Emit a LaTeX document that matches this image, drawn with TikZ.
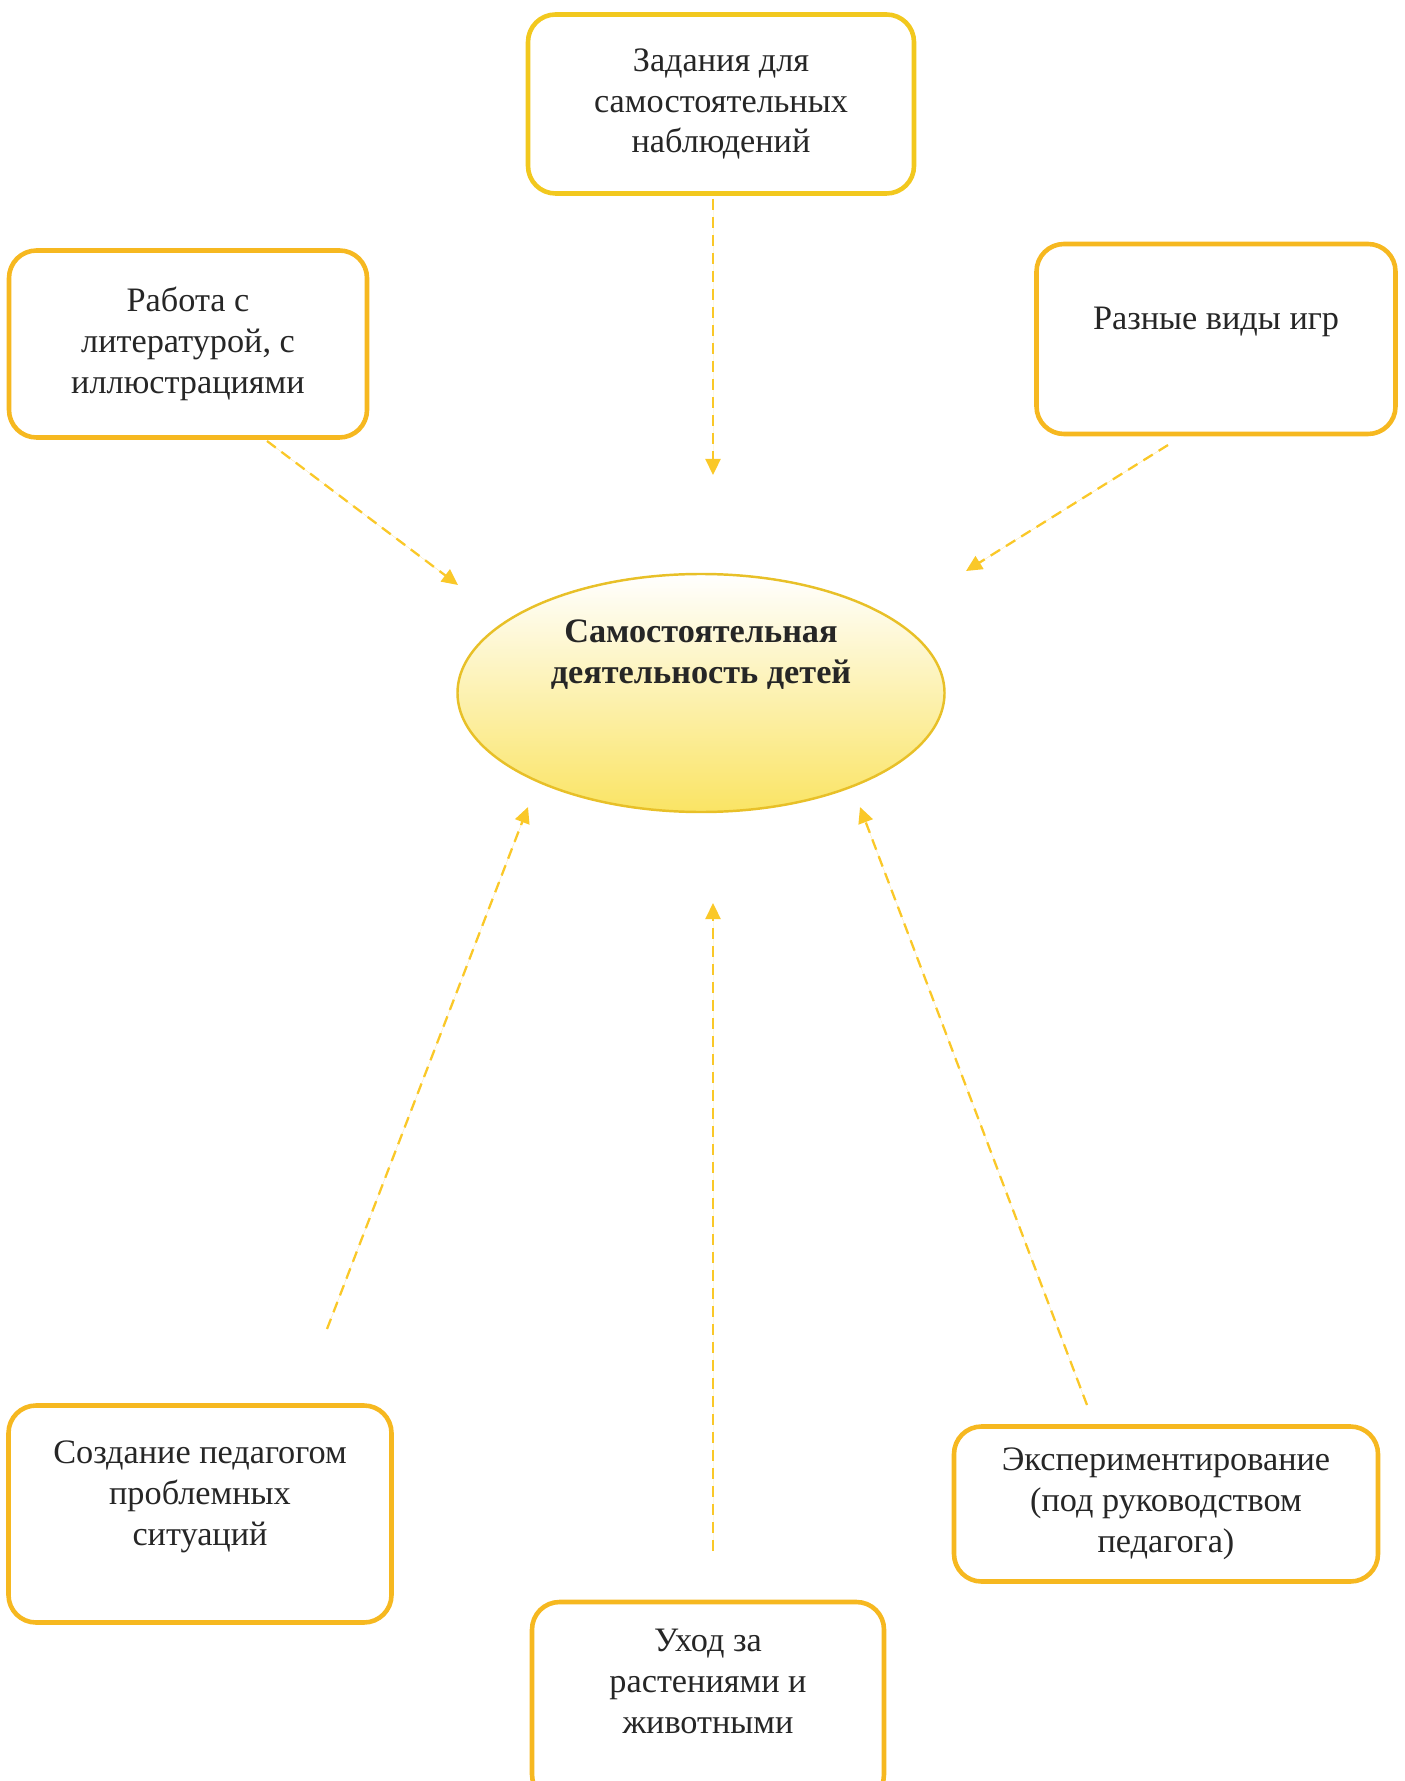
\documentclass[tikz,border=0pt]{standalone}
\usepackage{fontspec}
\setmainfont{Liberation Serif}
\usetikzlibrary{positioning,shapes.geometric,arrows.meta}

\definecolor{boxLine}{RGB}{246,184,32}
\definecolor{topLine}{RGB}{242,200,30}
\definecolor{flowLine}{RGB}{250,200,40}
\definecolor{centreLine}{RGB}{232,192,40}
\definecolor{centreFill}{RGB}{250,228,100}

\begin{document}
\begin{tikzpicture}[x=0.2mm, y=-0.2mm, >={Triangle[width=3mm,length=3.2mm]}]

    %
    % Styles for topics, the centre and the flows
    %
    \tikzstyle{topicName} = [align=center, font={\fontsize{19.5}{23.3}\selectfont}, text=black!85]
    \tikzstyle{topic} = [topicName, draw=boxLine, line width=2.6pt, rectangle, rounded corners=5.5mm, fill=white]
    \tikzstyle{centreName} = [align=center, font={\fontsize{19.5}{23.3}\selectfont\bfseries}, text=black!85]
    \tikzstyle{centre} = [centreName, ellipse, draw=centreLine, line width=1.4pt, inner sep=0pt,
                          top color=white, bottom color=centreFill, minimum width=97.4mm, minimum height=47.6mm]
    \tikzstyle{flow} = [->, draw=flowLine, fill=flowLine, line width=1.3pt, dash pattern=on 2.2mm off 1.4mm]

    \useasboundingbox (0,0) rectangle (1404,1781);
    \clip (0,0) rectangle (1404,1781);

    %
    % Position topics
    %
    \node[centre, name=activity] at (701,693) {Самостоятельная\\деятельность детей\\~\\~};
    \node[topic, name=observe, draw=topLine, minimum width=77.2mm, minimum height=35.8mm] at (721,104)
      {Задания для\\самостоятельных\\наблюдений};
    \node[topic, name=reading, minimum width=71.6mm, minimum height=37.4mm] at (188,344)
      {Работа с\\литературой, с\\иллюстрациями};
    \node[topic, name=games, minimum width=71.8mm, minimum height=38mm] at (1216,339)
      {Разные виды игр\\~};
    \node[topic, name=problems, minimum width=76.6mm, minimum height=43.4mm] at (200,1514)
      {Создание педагогом\\проблемных\\ситуаций\\~};
    \node[topic, name=care, minimum width=70.4mm, minimum height=40mm] at (708,1702)
      {Уход за\\растениями и\\животными\\~};
    \node[topic, name=experiment, minimum width=84.8mm, minimum height=31mm] at (1166,1504)
      {Экспериментирование\\(под руководством\\педагога)};

    %
    % Free ends of the flows
    %
    \coordinate (observeTail) at (713,199);
    \coordinate (observeHead) at (713,475);
    \coordinate (readingTail) at (267,441);
    \coordinate (readingHead) at (458,585);
    \coordinate (gamesTail) at (1168,445);
    \coordinate (gamesHead) at (966,571);
    \coordinate (problemsTail) at (327,1329);
    \coordinate (problemsHead) at (528,807);
    \coordinate (careTail) at (713,1551);
    \coordinate (careHead) at (713,903);
    \coordinate (experimentTail) at (1087,1405);
    \coordinate (experimentHead) at (860,807);

    %
    % Connect topics to the centre
    %
    \draw[flow] (observeTail) -- (observeHead);
    \draw[flow] (readingTail) -- (readingHead);
    \draw[flow] (gamesTail) -- (gamesHead);
    \draw[flow] (problemsTail) -- (problemsHead);
    \draw[flow] (careTail) -- (careHead);
    \draw[flow] (experimentTail) -- (experimentHead);
  \end{tikzpicture}
\end{document}
